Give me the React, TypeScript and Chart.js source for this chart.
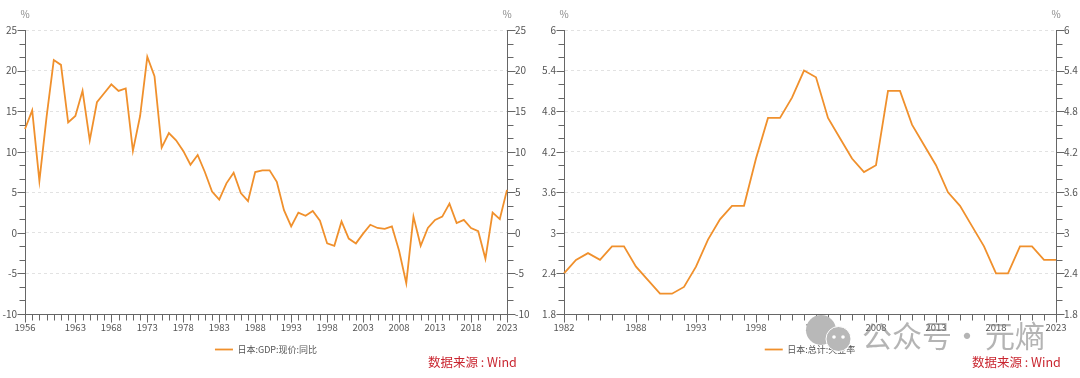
import React, { useEffect, useRef } from "react";
import { Chart, registerables } from "chart.js";

Chart.register(...registerables);

const FONT = '"Noto Sans CJK SC", "Noto Sans", sans-serif';
const LINE = "#f0902c";
const AXIS = "#666666";
const TEXT = "#555555";

const gdpYears = ["1956","1957","1958","1959","1960","1961","1962","1963","1964","1965","1966","1967","1968","1969","1970","1971","1972","1973","1974","1975","1976","1977","1978","1979","1980","1981","1982","1983","1984","1985","1986","1987","1988","1989","1990","1991","1992","1993","1994","1995","1996","1997","1998","1999","2000","2001","2002","2003","2004","2005","2006","2007","2008","2009","2010","2011","2012","2013","2014","2015","2016","2017","2018","2019","2020","2021","2022","2023"];
const gdpValues = [12.8,15.1,6.4,14.3,21.3,20.7,13.6,14.4,17.5,11.4,16.1,17.2,18.3,17.5,17.8,10.1,14.4,21.7,19.3,10.5,12.3,11.4,10.1,8.4,9.6,7.5,5.1,4.1,6.1,7.4,4.9,3.9,7.5,7.7,7.7,6.3,2.8,0.8,2.5,2.1,2.7,1.5,-1.3,-1.6,1.4,-0.7,-1.3,-0.1,1.0,0.6,0.5,0.8,-2.2,-6.2,2.0,-1.6,0.6,1.6,2.0,3.6,1.2,1.6,0.6,0.2,-3.2,2.5,1.7,5.3];
const gdpYearLabels = ["1956","1963","1968","1973","1978","1983","1988","1993","1998","2003","2008","2013","2018","2023"];
const gdpTicks = [-10,-5,0,5,10,15,20,25];

const unempYears = ["1982","1983","1984","1985","1986","1987","1988","1989","1990","1991","1992","1993","1994","1995","1996","1997","1998","1999","2000","2001","2002","2003","2004","2005","2006","2007","2008","2009","2010","2011","2012","2013","2014","2015","2016","2017","2018","2019","2020","2021","2022","2023"];
const unempValues = [2.4,2.6,2.7,2.6,2.8,2.8,2.5,2.3,2.1,2.1,2.2,2.5,2.9,3.2,3.4,3.4,4.1,4.7,4.7,5.0,5.4,5.3,4.7,4.4,4.1,3.9,4.0,5.1,5.1,4.6,4.3,4.0,3.6,3.4,3.1,2.8,2.4,2.4,2.8,2.8,2.6,2.6];
const unempYearLabels = ["1982","1988","1993","1998","2003","2008","2013","2018","2023"];
const unempTicks = [1.8,2.4,3,3.6,4.2,4.8,5.4,6];

const tickMarks = {
  id: "tickMarks",
  afterDraw(chart: any) {
    const { ctx, chartArea: a, scales } = chart;
    const labelled: string[] = chart.options.plugins.tickMarks.labelled;
    const vals: number[] = chart.options.plugins.tickMarks.values;
    ctx.save();
    ctx.strokeStyle = AXIS;
    ctx.lineWidth = 1;
    const seg = (x0: number, y0: number, x1: number, y1: number) => {
      ctx.beginPath();
      ctx.moveTo(x0, y0);
      ctx.lineTo(x1, y1);
      ctx.stroke();
    };
    const bottom = Math.round(a.bottom) + 0.5;
    chart.data.labels.forEach((year: string, i: number) => {
      const x = Math.round(scales.x.getPixelForValue(i)) + 0.5;
      seg(x, bottom, x, bottom + (labelled.includes(year) ? 8 : 6));
    });
    const left = Math.round(a.left) + 0.5;
    const right = Math.round(a.right) + 0.5;
    const mark = (v: number, len: number) => {
      const y = Math.round(scales.y.getPixelForValue(v)) + 0.5;
      seg(left, y, left - len, y);
      seg(right, y, right + len, y);
    };
    vals.forEach((v, i) => {
      mark(v, 8);
      if (i < vals.length - 1) {
        const d = (vals[i + 1] - v) / 3;
        mark(v + d, 6);
        mark(v + 2 * d, 6);
      }
    });
    ctx.fillStyle = "#888888";
    ctx.font = `10px ${FONT}`;
    ctx.textAlign = "center";
    ctx.textBaseline = "middle";
    ctx.fillText("%", a.left, 14);
    ctx.fillText("%", a.right, 14);
    ctx.restore();
  },
};

type PanelProps = {
  left: number; width: number; name: string; years: string[]; values: number[];
  yearLabels: string[]; yTicks: number[]; yWidth: number; rightWidth: number; padRight: number;
};

function Panel({ left, width, name, years, values, yearLabels, yTicks, yWidth, rightWidth, padRight }: PanelProps) {
  const ref = useRef<HTMLCanvasElement>(null);
  useEffect(() => {
    const yOpts = (position: string, w: number) => ({
      position,
      min: yTicks[0],
      max: yTicks[yTicks.length - 1],
      afterBuildTicks: (s: any) => { s.ticks = yTicks.map((value) => ({ value })); },
      afterFit: (s: any) => { s.width = w; },
      border: { color: AXIS, width: 1, dash: [3, 3] },
      ticks: {
        color: TEXT,
        font: { family: FONT, size: 10 },
        padding: 8,
        autoSkip: false,
        callback: (v: any) => String(Math.round(v * 10) / 10),
      },
    });
    const chart = new Chart(ref.current as any, {
      type: "line",
      data: {
        labels: years,
        datasets: [{
          label: name, data: values, yAxisID: "y", borderColor: LINE, backgroundColor: LINE,
          borderWidth: 1.8, pointRadius: 0, tension: 0, clip: false,
        }],
      },
      plugins: [tickMarks],
      options: {
        animation: false,
        responsive: false,
        layout: { autoPadding: false, padding: { top: 30, left: 0, right: padRight, bottom: 14 } },
        scales: {
          x: {
            type: "category",
            afterFit: (s: any) => { s.height = 21; },
            grid: { display: true, drawOnChartArea: false, drawTicks: false },
            border: { color: AXIS, width: 1 },
            ticks: {
              color: TEXT, font: { family: FONT, size: 9.5 }, padding: 8,
              autoSkip: false, maxRotation: 0, minRotation: 0,
              callback: (_v: any, i: number) => (yearLabels.includes(years[i]) ? years[i] : ""),
            },
          },
          y: {
            ...yOpts("left", yWidth),
            grid: { color: "#e2e2e2", drawTicks: false, lineWidth: 1 },
          },
          y2: {
            ...yOpts("right", rightWidth),
            grid: { display: false, drawTicks: false },
          },
        },
        plugins: {
          title: { display: false },
          tooltip: { enabled: false },
          legend: {
            display: true,
            position: "bottom",
            labels: {
              color: TEXT,
              font: { family: FONT, size: 9 },
              usePointStyle: true,
              pointStyle: "line",
              pointStyleWidth: 18,
              boxHeight: 9,
              padding: 10,
            },
          },
          tickMarks: { labelled: yearLabels, values: yTicks },
        },
      } as any,
    } as any);
    return () => chart.destroy();
  }, []);
  return (
    <canvas
      ref={ref}
      width={width}
      height={378}
      style={{ position: "absolute", left, top: 0, width, height: 378, display: "block" }}
    />
  );
}

const sourceStyle: React.CSSProperties = {
  position: "absolute", top: 352, fontFamily: FONT, fontSize: 12.5, lineHeight: "20px",
  color: "#c9252f", whiteSpace: "nowrap",
};
const markStyle: React.CSSProperties = {
  position: "absolute", top: 312, fontFamily: FONT, fontSize: 30, lineHeight: "44px",
  color: "rgba(130,130,130,0.6)", whiteSpace: "pre",
};

export default function App() {
  return (
    <div style={{ position: "fixed", left: 0, top: 0, width: 1080, height: 378, background: "#fff", overflow: "hidden" }}>
      <Panel left={0} width={540} name="日本:GDP:现价:同比" years={gdpYears} values={gdpValues}
        yearLabels={gdpYearLabels} yTicks={gdpTicks} yWidth={25} rightWidth={25} padRight={8} />
      <Panel left={540} width={540} name="日本:总计:失业率" years={unempYears} values={unempValues}
        yearLabels={unempYearLabels} yTicks={unempTicks} yWidth={24} rightWidth={24} padRight={0} />
      <div style={{ ...sourceStyle, left: 428 }}>数据来源 : Wind</div>
      <div style={{ ...sourceStyle, left: 972 }}>数据来源 : Wind</div>
      <svg width={60} height={50} style={{ position: "absolute", left: 800, top: 314 }}>
        <circle cx={21} cy={16} r={15} fill="#b8b8b8" />
        <circle cx={38.5} cy={25} r={12.5} fill="#b8b8b8" stroke="#fff" strokeWidth={1} />
        <circle cx={34} cy={23} r={1.8} fill="#fff" />
        <circle cx={43} cy={23} r={1.8} fill="#fff" />
      </svg>
      <div style={{ ...markStyle, left: 862 }}>公众号</div>
      <div style={{ ...markStyle, left: 967, transform: "translateX(-50%)" }}>·</div>
      <div style={{ ...markStyle, left: 985 }}>元熵</div>
    </div>
  );
}
